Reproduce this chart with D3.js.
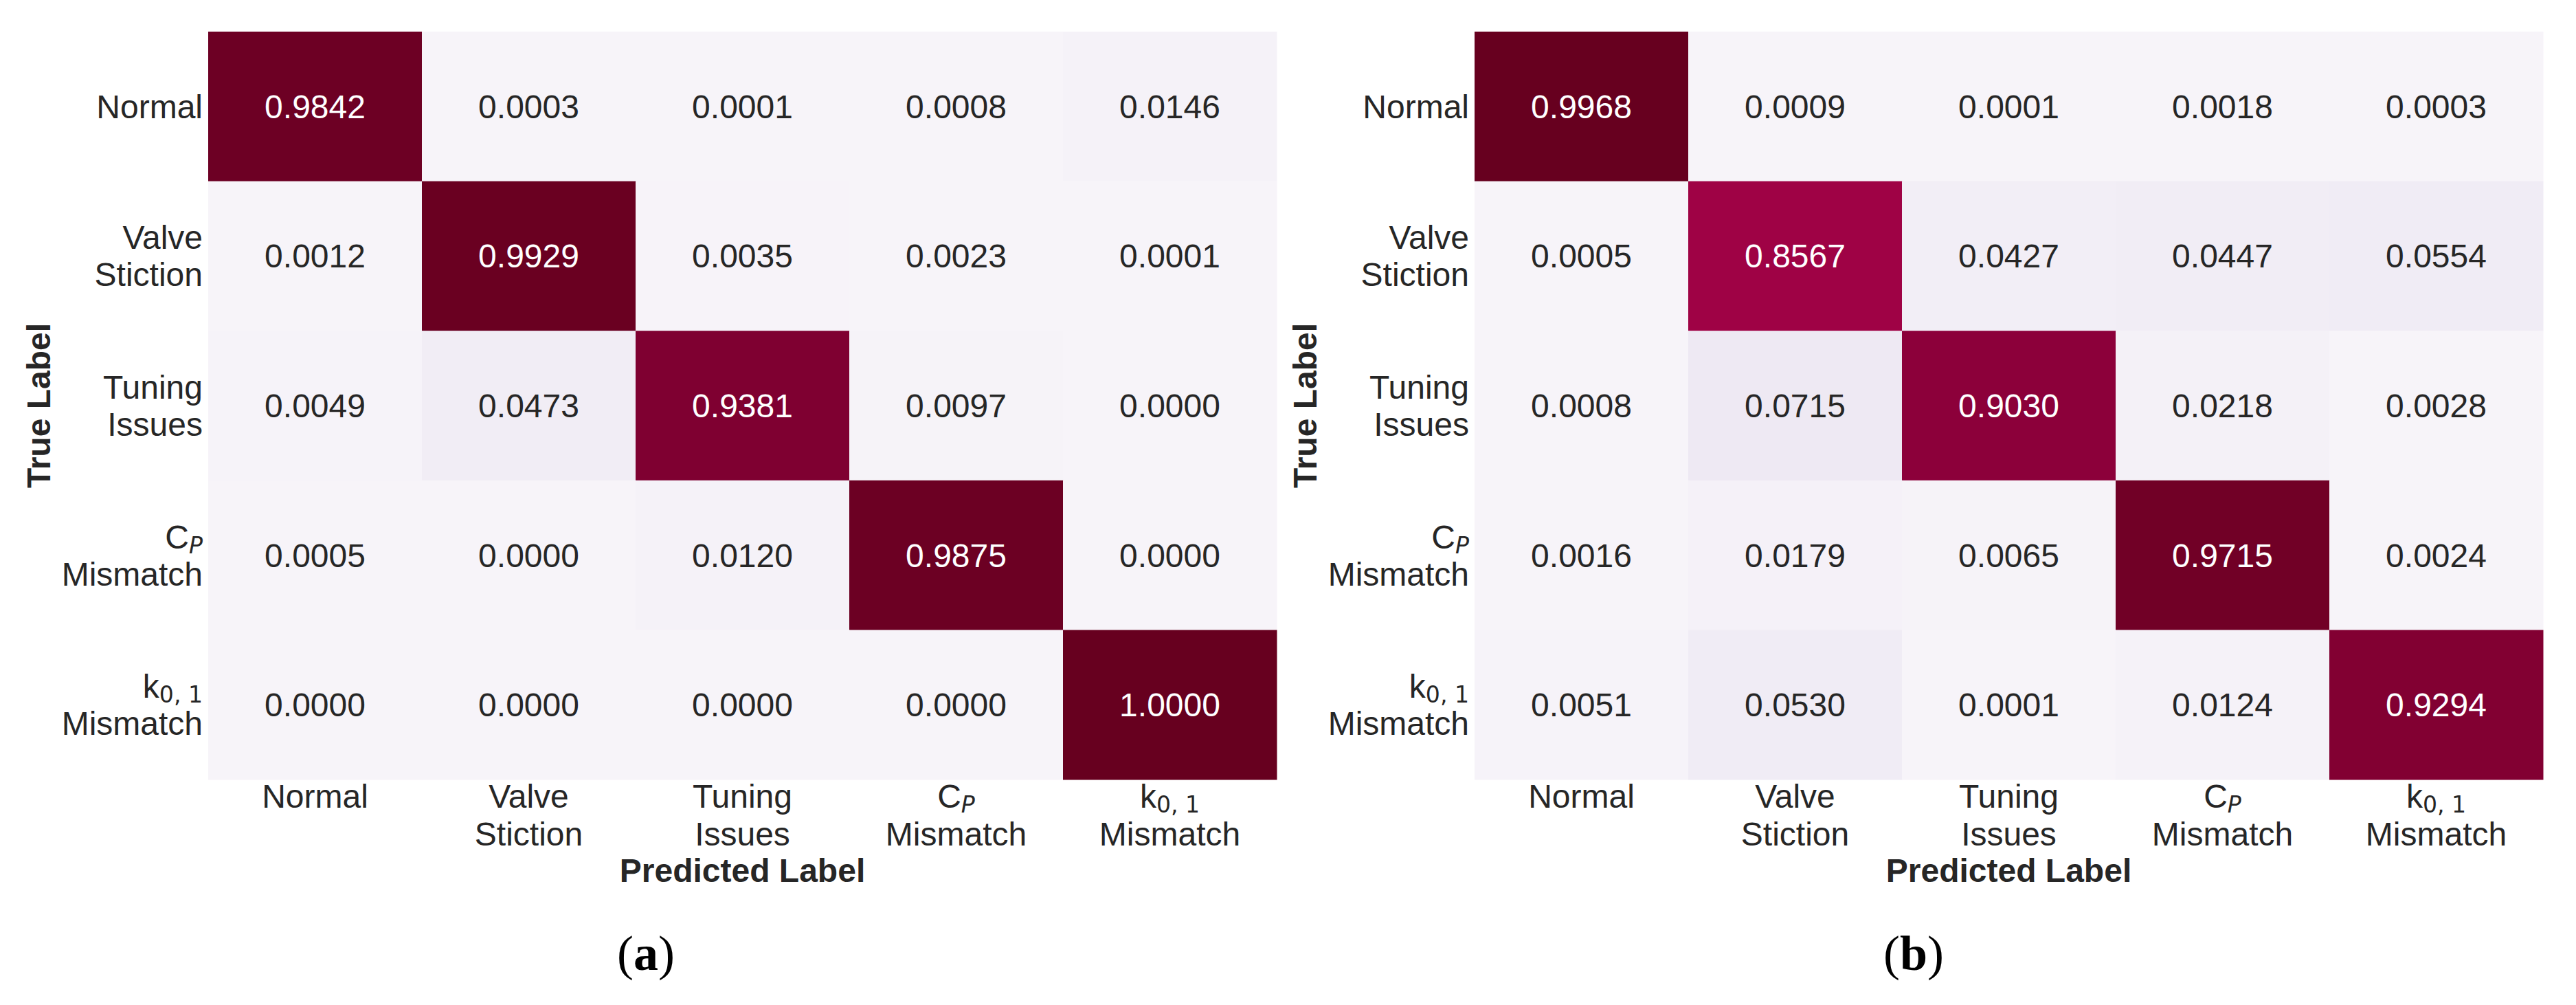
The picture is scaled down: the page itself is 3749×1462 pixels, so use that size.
<!DOCTYPE html>
<html>
<head>
<meta charset="utf-8">
<script src="https://cdn.jsdelivr.net/npm/d3@7"></script>
<style>
  html, body { margin: 0; padding: 0; background: #ffffff; }
  svg { display: block; }
</style>
</head>
<body>
<svg id="chart"></svg>
<script>
// ---------------- data ----------------
const categories = ["Normal", "Valve Stiction", "Tuning Issues", "C_P Mismatch", "k_{0,1} Mismatch"];
// label lines (segments: text, optional subscript / italic)
const categoryLines = [
  [[{t: "Normal"}]],
  [[{t: "Valve"}], [{t: "Stiction"}]],
  [[{t: "Tuning"}], [{t: "Issues"}]],
  [[{t: "C"}, {t: "P", sub: true, italic: true}], [{t: "Mismatch"}]],
  [[{t: "k"}, {t: "0, 1", sub: true}], [{t: "Mismatch"}]]
];
const matrixA = [
  [0.9842, 0.0003, 0.0001, 0.0008, 0.0146],
  [0.0012, 0.9929, 0.0035, 0.0023, 0.0001],
  [0.0049, 0.0473, 0.9381, 0.0097, 0.0000],
  [0.0005, 0.0000, 0.0120, 0.9875, 0.0000],
  [0.0000, 0.0000, 0.0000, 0.0000, 1.0000]
];
const matrixB = [
  [0.9968, 0.0009, 0.0001, 0.0018, 0.0003],
  [0.0005, 0.8567, 0.0427, 0.0447, 0.0554],
  [0.0008, 0.0715, 0.9030, 0.0218, 0.0028],
  [0.0016, 0.0179, 0.0065, 0.9715, 0.0024],
  [0.0051, 0.0530, 0.0001, 0.0124, 0.9294]
];
const panelCaptions = ["a", "b"];
const xAxisTitle = "Predicted Label";
const yAxisTitle = "True Label";
const purdColors = ["#f7f4f9","#e7e1ef","#d4b9da","#c994c7","#df65b0","#e7298a","#ce1256","#980043","#67001f"];

// ---------------- layout ----------------
const W = 3749, H = 1462;
const svg = d3.select("#chart").attr("width", W).attr("height", H);
svg.append("rect").attr("width", W).attr("height", H).attr("fill", "#ffffff");

const sans = "'Liberation Sans', Arial, Helvetica, sans-serif";
const mathFont = "'DejaVu Sans', sans-serif";
const textColor = "#262626";

const hm = {left: 303, right: 1858, top: 46, bottom: 1134};
const panels = [
  {data: matrixA, caption: panelCaptions[0], dx: 0, capX: 940},
  {data: matrixB, caption: panelCaptions[1], dx: 1843, capX: 942}
];

function writeLine(textSel, segs, size) {
  segs.forEach(s => {
    const ts = textSel.append("tspan").text(s.t);
    if (s.sub) {
      ts.attr("font-family", mathFont)
        .attr("font-size", size * 0.69)
        .attr("dy", 7);
      if (s.italic) ts.attr("font-style", "italic");
    }
  });
}

panels.forEach(p => {
  const g = svg.append("g").attr("transform", `translate(${p.dx},0)`);
  const x = d3.scaleBand().domain(d3.range(categories.length)).range([hm.left, hm.right]);
  const y = d3.scaleBand().domain(d3.range(categories.length)).range([hm.top, hm.bottom]);
  const flat = p.data.flat();
  const ext = d3.extent(flat);
  const norm = d3.scaleLinear().domain(ext).range([0, 1]);
  const color = d3.scaleLinear()
    .domain(d3.range(purdColors.length).map(i => i / (purdColors.length - 1)))
    .range(purdColors)
    .interpolate(d3.interpolateRgb);

  const cells = [];
  p.data.forEach((row, i) => row.forEach((v, j) => cells.push({i, j, v})));

  g.selectAll("rect.cell").data(cells).enter().append("rect")
    .attr("class", "cell")
    .attr("x", d => x(d.j))
    .attr("y", d => y(d.i))
    .attr("width", x.bandwidth() + 0.5)
    .attr("height", y.bandwidth() + 0.5)
    .attr("fill", d => color(norm(d.v)));

  g.selectAll("text.annot").data(cells).enter().append("text")
    .attr("class", "annot")
    .attr("x", d => x(d.j) + x.bandwidth() / 2)
    .attr("y", d => y(d.i) + y.bandwidth() / 2 + 17)
    .attr("text-anchor", "middle")
    .attr("font-family", sans)
    .attr("font-size", 48)
    .attr("fill", d => norm(d.v) > 0.5 ? "#ffffff" : textColor)
    .text(d => d.v.toFixed(4));

  // y tick labels
  categoryLines.forEach((lines, i) => {
    const c = y(i) + y.bandwidth() / 2;
    const n = lines.length;
    lines.forEach((segs, k) => {
      const t = g.append("text")
        .attr("x", hm.left - 8)
        .attr("y", c + 17 - (n - 1) * 27 + k * 54)
        .attr("text-anchor", "end")
        .attr("font-family", sans)
        .attr("font-size", 48)
        .attr("fill", textColor);
      writeLine(t, segs, 48);
    });
  });

  // x tick labels
  categoryLines.forEach((lines, j) => {
    const c = x(j) + x.bandwidth() / 2;
    lines.forEach((segs, k) => {
      const t = g.append("text")
        .attr("x", c)
        .attr("y", 1175 + k * 55)
        .attr("text-anchor", "middle")
        .attr("font-family", sans)
        .attr("font-size", 48)
        .attr("fill", textColor);
      writeLine(t, segs, 48);
    });
  });

  // axis titles
  g.append("text")
    .attr("x", (hm.left + hm.right) / 2)
    .attr("y", 1283)
    .attr("text-anchor", "middle")
    .attr("font-family", sans)
    .attr("font-weight", "bold")
    .attr("font-size", 48)
    .attr("fill", textColor)
    .text(xAxisTitle);

  g.append("text")
    .attr("transform", `translate(73,${(hm.top + hm.bottom) / 2}) rotate(-90)`)
    .attr("text-anchor", "middle")
    .attr("font-family", sans)
    .attr("font-weight", "bold")
    .attr("font-size", 48)
    .attr("fill", textColor)
    .text(yAxisTitle);

  // caption
  const cap = g.append("text")
    .attr("x", p.capX)
    .attr("y", 1411)
    .attr("text-anchor", "middle")
    .attr("font-family", "'Liberation Serif', 'Times New Roman', serif")
    .attr("font-size", 72)
    .attr("fill", "#000000");
  cap.append("tspan").text("(");
  cap.append("tspan").attr("font-weight", "bold").text(p.caption);
  cap.append("tspan").text(")");
});
</script>
</body>
</html>
